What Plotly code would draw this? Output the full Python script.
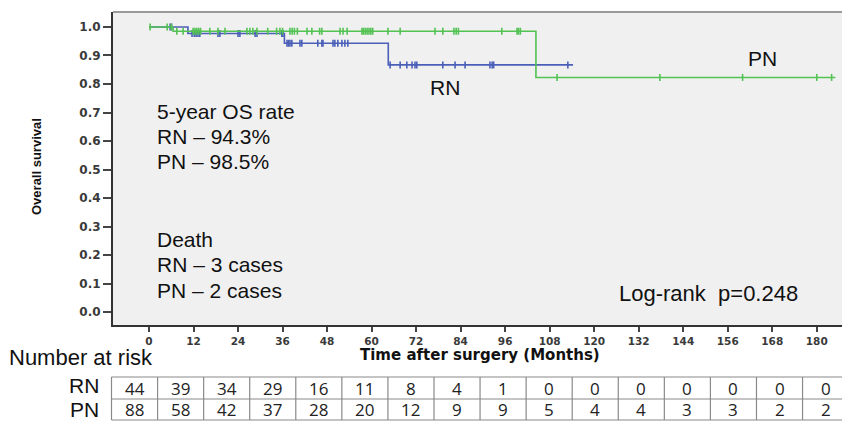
import plotly.graph_objects as go

W, H = 842, 425

# ---------------- data ----------------
month_ticks = list(range(0, 181, 12))
surv_ticks = [0.0, 0.1, 0.2, 0.3, 0.4, 0.5, 0.6, 0.7, 0.8, 0.9, 1.0]

rn_event_times = [10.5, 36.5, 64.5]
rn_survival = [1.0, 0.977, 0.943, 0.867]
rn_last_followup = 114.3
rn_censor_times = [5.7, 6.1, 11.6, 12.2, 12.7, 13.2, 13.7, 18.6, 19.1, 24.0, 24.5,
                   28.6, 29.1, 35.8, 36.1, 37.2, 37.6, 38.0, 38.5, 40.7, 41.2,
                   45.5, 46.6, 46.9, 49.6, 50.1, 50.9, 52.0, 52.8, 53.6,
                   65.0, 67.7, 69.5, 70.9, 71.7, 72.2, 79.2, 82.5, 85.2,
                   91.9, 92.5, 92.9, 112.9]

pn_event_times = [6.5, 104.3]
pn_survival = [1.0, 0.985, 0.823]
pn_last_followup = 185.0
pn_censor_times = [0.3, 4.9, 6.0, 7.5, 9.2, 11.9, 12.4, 12.9, 13.4, 13.9, 16.4, 18.6,
                   20.5, 26.4, 27.2, 28.0, 29.1, 32.0, 34.4, 35.3, 36.0, 38.0, 38.6,
                   39.2, 40.0, 42.6, 43.9, 46.0, 46.6, 51.5, 52.3, 53.4, 57.4, 57.8,
                   58.3, 58.8, 59.3, 59.8, 60.3, 64.4, 67.7, 77.1, 79.2, 82.2, 82.8,
                   83.4, 95.1, 99.2, 99.6, 100.1, 110.0, 137.7, 160.0, 180.0, 184.0]

risk_labels = ["RN", "PN"]
risk_rn = [44, 39, 34, 29, 16, 11, 8, 4, 1, 0, 0, 0, 0, 0, 0, 0]
risk_pn = [88, 58, 42, 37, 28, 20, 12, 9, 9, 5, 4, 4, 3, 3, 2, 2]

text_os = ["5-year OS rate", "RN \u2013 94.3%", "PN \u2013 98.5%"]
text_death = ["Death", "RN \u2013 3 cases", "PN \u2013 2 cases"]

# ---------------- styles ----------------
GREEN = "#52c252"
BLUE = "#4a5fb8"
BG = "#f0f0f0"


def px(x):
    return x / W


def py(y):
    return 1 - y / H


def step_value(t, times, surv):
    k = sum(1 for e in times if e <= t)
    return surv[k]


fig = go.Figure()

for times, surv, last, cens, color in [
    (rn_event_times, rn_survival, rn_last_followup, rn_censor_times, BLUE),
    (pn_event_times, pn_survival, pn_last_followup, pn_censor_times, GREEN),
]:
    xs = [0.0] + times + [last]
    ys = surv + [surv[-1]]
    fig.add_trace(go.Scatter(x=xs, y=ys, mode="lines", line=dict(color=color, width=1.6, shape="hv"),
                             showlegend=False, hoverinfo="skip"))
    fig.add_trace(go.Scatter(x=cens, y=[step_value(t, times, surv) for t in cens], mode="markers",
                             marker=dict(symbol="line-ns-open", size=5, color=color,
                                         line=dict(color=color, width=1.6)),
                             showlegend=False, hoverinfo="skip"))

fig.update_layout(
    width=W, height=H,
    margin=dict(l=0, r=0, t=0, b=0),
    paper_bgcolor="white",
    plot_bgcolor=BG,
    xaxis=dict(domain=[px(113), 1.0], range=[-9.7, 186.8], tickvals=month_ticks,
               ticks="outside", ticklen=5, tickwidth=1.5, tickcolor="#444",
               showline=True, linecolor="#333", linewidth=2, showgrid=False, zeroline=False,
               tickfont=dict(family="DejaVu Sans", size=10.5, color="#3a3a3a", weight="bold")),
    yaxis=dict(domain=[py(325), py(12)], range=[-0.0456, 1.0526], tickvals=surv_ticks,
               ticktext=[f"{v:.1f}" for v in surv_ticks],
               ticks="outside", ticklen=8, tickwidth=1.5, tickcolor="#444",
               showline=True, linecolor="#333", linewidth=2, showgrid=False, zeroline=False,
               tickfont=dict(family="DejaVu Sans", size=12, color="#3a3a3a", weight="bold")),
)

shapes = [dict(type="line", xref="paper", yref="paper", x0=px(113), x1=1.0, y0=py(12), y1=py(12),
               line=dict(color="#9a9a9a", width=2))]

annotations = []
main_font = dict(family="Liberation Sans, Arial", size=21, color="#111")
for i, t in enumerate(text_os):
    annotations.append(dict(text=t, x=px(155), y=py(111 + 25.5 * i), xanchor="left", yanchor="middle",
                            font=main_font))
for i, t in enumerate(text_death):
    annotations.append(dict(text=t, x=px(155), y=py(239 + 25.5 * i), xanchor="left", yanchor="middle",
                            font=main_font))
annotations.append(dict(text="RN", x=px(445), y=py(88), xanchor="center", yanchor="middle", font=main_font))
annotations.append(dict(text="PN", x=px(762), y=py(58), xanchor="center", yanchor="middle", font=main_font))
annotations.append(dict(text="Log-rank\u00a0\u00a0p=0.248", x=px(800), y=py(293), xanchor="right",
                        yanchor="middle", font=dict(family="Liberation Sans, Arial", size=22, color="#111")))
annotations.append(dict(text="Overall survival", x=px(36), y=py(167), xanchor="center", yanchor="middle",
                        textangle=-90,
                        font=dict(family="Liberation Sans Narrow, Arial Narrow, Liberation Sans",
                                  size=13, color="#111", weight="bold")))
annotations.append(dict(text="Time after surgery (Months)", x=px(480), y=py(355), xanchor="center",
                        yanchor="middle", font=dict(family="DejaVu Sans", size=15, color="#111", weight="bold")))
annotations.append(dict(text="Number at risk", x=px(7), y=py(357), xanchor="left", yanchor="middle",
                        font=dict(family="Liberation Sans, Arial", size=22, color="#111")))

# number-at-risk table
tbl_left, col_w = 111.5, 46.07
row_edges = [377, 399, 420]
row_centers = [388.5, 409.5]
label_centers = [385, 409]
ncol = len(risk_rn)
tbl_right = tbl_left + col_w * ncol
grid = dict(color="#8a8a8a", width=1.2)
for yy in row_edges:
    shapes.append(dict(type="line", xref="paper", yref="paper", x0=px(tbl_left), x1=px(tbl_right),
                       y0=py(yy), y1=py(yy), line=grid))
for c in range(ncol + 1):
    xx = tbl_left + col_w * c
    shapes.append(dict(type="line", xref="paper", yref="paper", x0=px(xx), x1=px(xx),
                       y0=py(row_edges[0]), y1=py(row_edges[-1]), line=grid))

for r, (lab, vals) in enumerate(zip(risk_labels, [risk_rn, risk_pn])):
    annotations.append(dict(text=lab, x=px(101), y=py(label_centers[r]), xanchor="right",
                            yanchor="middle", font=dict(family="Liberation Sans, Arial", size=21, color="#111")))
    for c, v in enumerate(vals):
        annotations.append(dict(text=str(v), x=px(tbl_left + col_w * (c + 0.5)), y=py(row_centers[r]),
                                xanchor="center", yanchor="middle",
                                font=dict(family="Open Sans, Noto Sans", size=17, color="#222")))

for a in annotations:
    a.update(xref="paper", yref="paper", showarrow=False)

fig.update_layout(shapes=shapes, annotations=annotations)
fig.write_html("out.html", config={"displayModeBar": False},
               post_script="document.body.style.margin='0';document.body.style.overflow='hidden';")
